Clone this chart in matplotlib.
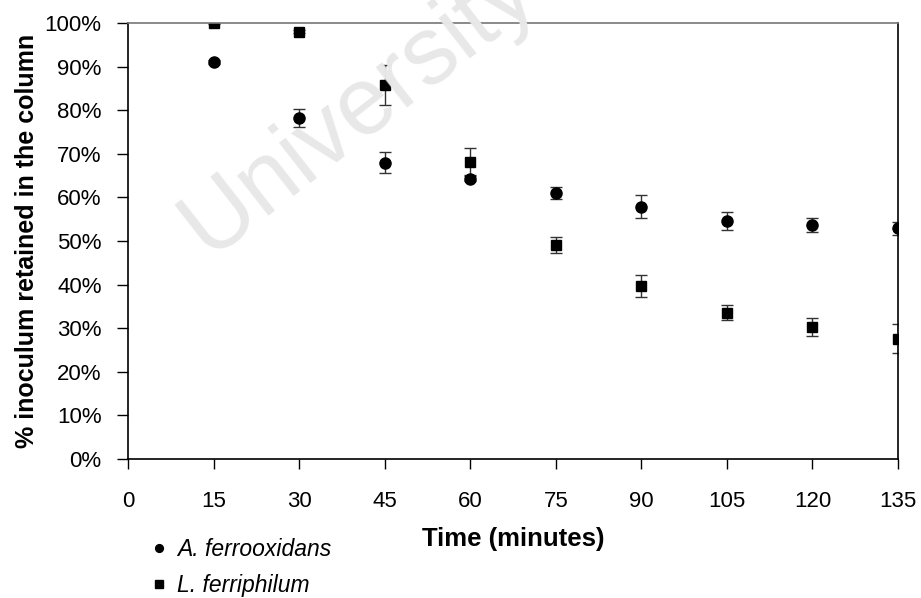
import matplotlib
matplotlib.use("Agg")
import matplotlib.pyplot as plt
from matplotlib.ticker import PercentFormatter

plt.rcParams['font.family'] = ['Liberation Sans', 'DejaVu Sans']

# data
time_min = [15, 30, 45, 60, 75, 90, 105, 120, 135]
af_labels = 'A. ferrooxidans'
af_mean = [91.0, 78.2, 67.9, 64.3, 61.0, 57.9, 54.6, 53.6, 52.9]
af_err = [0.4, 2.0, 2.4, 0.5, 1.3, 2.6, 2.1, 1.6, 1.5]
lf_labels = 'L. ferriphilum'
lf_mean = [100.0, 98.0, 85.8, 68.2, 49.1, 39.6, 33.6, 30.2, 27.6]
lf_err = [0.3, 0.4, 4.6, 3.1, 1.8, 2.5, 1.8, 2.1, 3.4]
x_ticks = [0, 15, 30, 45, 60, 75, 90, 105, 120, 135]
y_ticks = [0, 10, 20, 30, 40, 50, 60, 70, 80, 90, 100]

fig = plt.figure(figsize=(9.21, 5.98), dpi=100)
ax = fig.add_axes([128/921, 1 - 459/598, 770/921, 436/598])

# faint watermark behind the chart
fig.text(0.39, 0.82, 'University', fontsize=69, color='#e8e8e8', rotation=38,
         ha='center', va='center', zorder=0)
ax.set_facecolor('none')

ax.errorbar(time_min, af_mean, yerr=af_err, fmt='o', color='black', ms=8,
            ecolor='#333333', elinewidth=1, capsize=4, capthick=1, label=af_labels)
ax.errorbar(time_min, lf_mean, yerr=lf_err, fmt='s', color='black', ms=7.5,
            ecolor='#333333', elinewidth=1, capsize=4, capthick=1, label=lf_labels)

ax.set_xlim(0, 135)
ax.set_ylim(0, 100)
ax.set_xticks(x_ticks)
ax.set_yticks(y_ticks)
ax.yaxis.set_major_formatter(PercentFormatter(decimals=0))
ax.tick_params(axis='x', direction='out', length=7, width=1, pad=16, labelsize=16)
ax.tick_params(axis='y', direction='out', length=8, width=1, pad=11, labelsize=16)
for s in ['left', 'bottom', 'right']:
    ax.spines[s].set_color('black')
    ax.spines[s].set_linewidth(1.2)
ax.spines['top'].set_color('#777777')
ax.spines['top'].set_linewidth(1.2)

ax.set_xlabel('Time (minutes)', fontsize=18.5, fontweight='bold', labelpad=11)
ax.set_ylabel('% inoculum retained in the column', fontsize=18, fontweight='bold', labelpad=4)

handles, labels = ax.get_legend_handles_labels()
handles = [h[0] for h in handles]
fig.legend(handles, labels, loc='upper left', bbox_to_anchor=(0.155, 0.115),
           frameon=False, markerscale=0.7, handlelength=0.6, handletextpad=0.5,
           labelspacing=0.55, borderaxespad=0, prop={'style': 'italic', 'size': 16.5})

fig.savefig('out.png', dpi=100)
